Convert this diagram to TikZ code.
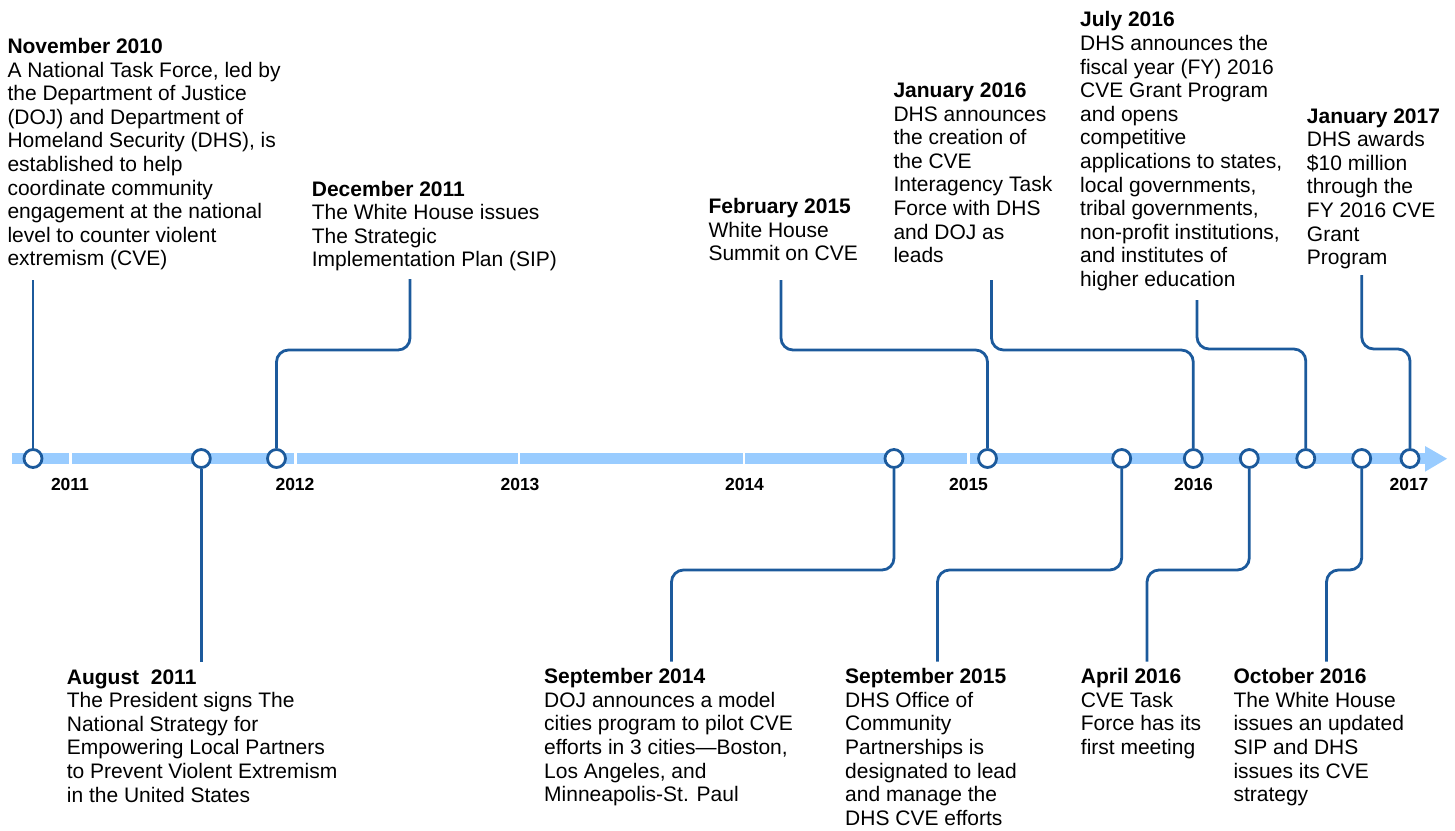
\documentclass[tikz,border=0pt]{standalone}
\usepackage{fontspec}
\setmainfont{Liberation Sans}
\definecolor{linec}{RGB}{28,90,156}
\definecolor{barc}{RGB}{153,204,255}
\begin{document}
\begin{tikzpicture}[x=1pt,y=-1pt,
  ev/.style={anchor=north west, inner sep=0pt, align=left, font=\fontsize{21}{23.6}\selectfont, text=black},
  dot/.style={circle, draw=linec, line width=2.8pt, fill=white, minimum size=18pt, inner sep=0pt},
  conn/.style={draw=linec, line width=2.8pt, rounded corners=12pt},
  yr/.style={font=\fontsize{17.5}{19}\selectfont\bfseries, inner sep=0pt, anchor=center}]
\useasboundingbox (0,0) rectangle (1455,830);
% timeline bar
\fill[barc] (12,453.3) rectangle (1426,464);
\fill[barc] (1425,446) -- (1447,458.7) -- (1425,471.7) -- cycle;
\foreach \gx in {70.5,295.5,519,744,968.5}{
  \fill[white] ({\gx-1.3},452) rectangle ({\gx+1.3},465);
}
% year labels
\node[yr] (y11) at (70,484.5) {2011};
\node[yr] (y12) at (295,484.5) {2012};
\node[yr] (y13) at (520,484.5) {2013};
\node[yr] (y14) at (744.5,484.5) {2014};
\node[yr] (y15) at (968.5,484.5) {2015};
\node[yr] (y16) at (1193.5,484.5) {2016};
\node[yr] (y17) at (1409,484.5) {2017};
% event dots
\node[dot] (c1) at (33,458.5) {};
\node[dot] (c2) at (201.3,458.5) {};
\node[dot] (c3) at (276.5,458.5) {};
\node[dot] (c4) at (894,458.5) {};
\node[dot] (c5) at (987.5,458.5) {};
\node[dot] (c6) at (1121.7,458.5) {};
\node[dot] (c7) at (1193.3,458.5) {};
\node[dot] (c8) at (1249.3,458.5) {};
\node[dot] (c9) at (1305.8,458.5) {};
\node[dot] (c10) at (1361.7,458.5) {};
\node[dot] (c11) at (1410,458.5) {};
% texts above
\node[ev] (t1) at (7.3,38) {\textbf{November 2010}\\A National Task Force, led by\\the Department of Justice\\(DOJ) and Department of\\Homeland Security (DHS), is\\established to help\\coordinate community\\engagement at the national\\level to counter violent\\extremism (CVE)};
\node[ev] (t3) at (311.7,180.7) {\textbf{December 2011}\\The White House issues\\The Strategic\\Implementation Plan (SIP)};
\node[ev] (t5) at (708.3,198.3) {\textbf{February 2015}\\White House\\Summit on CVE};
\node[ev] (t7) at (893.3,82.7) {\textbf{January 2016}\\DHS announces\\the creation of\\the CVE\\Interagency Task\\Force with DHS\\and DOJ as\\leads};
\node[ev] (t9) at (1080,11.5) {\textbf{July 2016}\\DHS announces the\\fiscal year (FY) 2016\\CVE Grant Program\\and opens\\competitive\\applications to states,\\local governments,\\tribal governments,\\non-profit institutions,\\and institutes of\\higher education};
\node[ev] (t11) at (1306.7,108.3) {\textbf{January 2017}\\DHS awards\\\$10 million\\through the\\FY 2016 CVE\\Grant\\Program};
% texts below
\node[ev] (t2) at (66.7,669.3) {\textbf{August\ \ 2011}\\The President signs The\\National Strategy for\\Empowering Local Partners\\to Prevent Violent Extremism\\in the United States};
\node[ev] (t4) at (544,668.3) {\textbf{September 2014}\\DOJ announces a model\\cities program to pilot CVE\\efforts in 3 cities—Boston,\\Los Angeles, and\\Minneapolis-St. Paul};
\node[ev] (t6) at (845,668.3) {\textbf{September 2015}\\DHS Office of\\Community\\Partnerships is\\designated to lead\\and manage the\\DHS CVE efforts};
\node[ev] (t8) at (1080.7,668.3) {\textbf{April 2016}\\CVE Task\\Force has its\\first meeting};
\node[ev] (t10) at (1233.3,668.3) {\textbf{October 2016}\\The White House\\issues an updated\\SIP and DHS\\issues its CVE\\strategy};
% connector free ends
\coordinate (e1) at (33,280);
\coordinate (e3) at (410,279);
\coordinate (e5) at (781,280);
\coordinate (e7) at (991.5,280);
\coordinate (e9) at (1197,300);
\coordinate (e11) at (1361.7,275);
\coordinate (e2) at (201.3,661.5);
\coordinate (e4) at (671.5,661.5);
\coordinate (e6) at (937.5,661.5);
\coordinate (e8) at (1147,661.5);
\coordinate (e10) at (1326.5,661.5);
% connectors above
\draw[conn] (c1.north) -- (e1);
\draw[conn] (c3.north) |- (e3 |- 0,350) -- (e3);
\draw[conn] (e5) -- (e5 |- 0,350) -| (c5.north);
\draw[conn] (e7) -- (e7 |- 0,350) -| (c7.north);
\draw[conn] (e9) -- (e9 |- 0,349) -| (c9.north);
\draw[conn] (e11) -- (e11 |- 0,349) -| (c11.north);
% connectors below
\draw[conn] (c2.south) -- (e2);
\draw[conn] (c4.south) |- (e4 |- 0,570) -- (e4);
\draw[conn] (c6.south) |- (e6 |- 0,570) -- (e6);
\draw[conn] (c8.south) |- (e8 |- 0,570) -- (e8);
\draw[conn] (c10.south) |- (e10 |- 0,570) -- (e10);
\end{tikzpicture}
\end{document}
